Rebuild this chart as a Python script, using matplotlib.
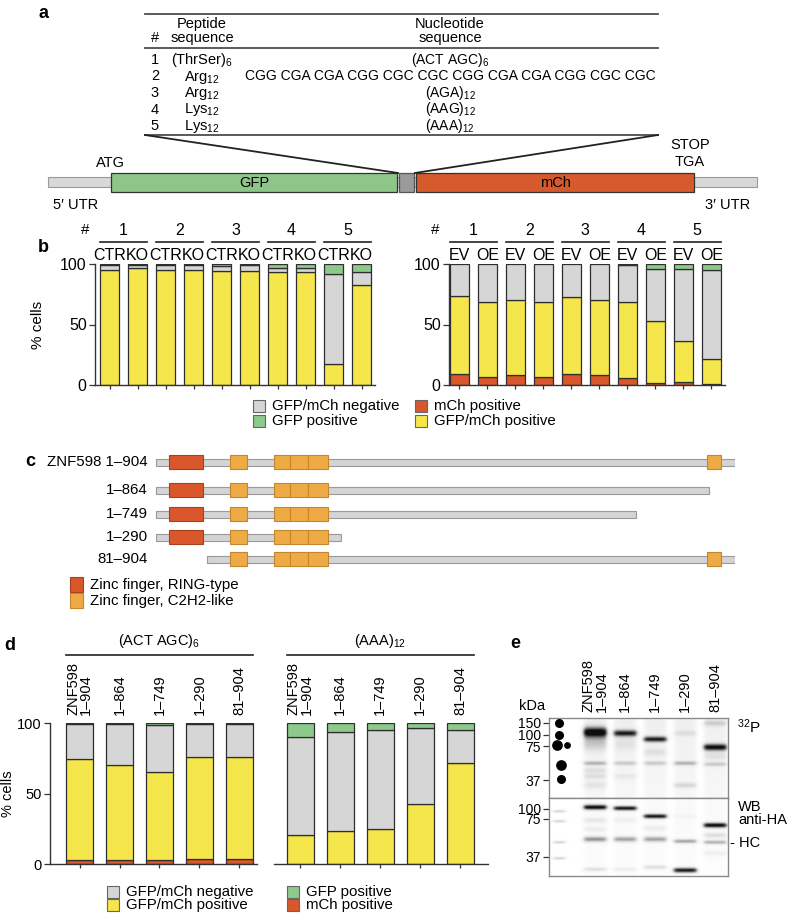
import numpy as np
import matplotlib
matplotlib.use('Agg')
import matplotlib.pyplot as plt
from matplotlib.patches import Rectangle
from matplotlib.transforms import blended_transform_factory

plt.rcParams['font.family'] = ['Liberation Sans', 'DejaVu Sans']
plt.rcParams['mathtext.default'] = 'regular'

# ---------------- data ----------------
# panel a table
row_ids = ['1', '2', '3', '4', '5']
peptides = ['(ThrSer)$_6$', 'Arg$_{12}$', 'Arg$_{12}$', 'Lys$_{12}$', 'Lys$_{12}$']
nucleotides = ['(ACT AGC)$_6$',
               'CGG CGA CGA CGG CGC CGC CGG CGA CGA CGG CGC CGC',
               '(AGA)$_{12}$', '(AAG)$_{12}$', '(AAA)$_{12}$']

# panel b (% cells), left = CTR/KO, right = EV/OE
b_groups = ['1', '2', '3', '4', '5']
b_left_cond = ['CTR', 'KO'] * 5
b_right_cond = ['EV', 'OE'] * 5
bl_mch = [0, 0, 0, 0, 0, 0, 0, 0, 0, 0]
bl_both = [95.0, 96.4, 95.2, 95.0, 94.2, 94.6, 93.7, 93.1, 17.4, 82.6]
bl_neg = [4.5, 3.1, 4.3, 4.5, 4.4, 4.4, 3.3, 3.9, 74.3, 10.8]
bl_gfp = [0.5, 0.5, 0.5, 0.5, 1.4, 1.0, 3.0, 3.0, 8.3, 6.6]
br_mch = [9.1, 6.6, 8.3, 6.6, 8.8, 8.3, 5.5, 1.9, 2.8, 1.1]
br_both = [64.1, 62.4, 62.1, 61.6, 63.8, 61.6, 62.7, 51.1, 33.9, 20.7]
br_neg = [26.8, 31.0, 29.6, 31.8, 27.4, 30.1, 31.2, 43.0, 59.2, 73.5]
br_gfp = [0, 0, 0, 0, 0, 0, 0.6, 4.0, 4.1, 4.7]

# panel c constructs (amino acids)
constructs = ['ZNF598 1\u2013904', '1\u2013864', '1\u2013749', '1\u2013290', '81\u2013904']
c_start = [1, 1, 1, 1, 81]
c_end = [904, 864, 749, 290, 904]
ring_domains = [(22, 75)]
c2h2_domains = [(117, 143), (186, 211), (211, 239), (239, 269), (860, 882)]

# panel d (% cells)
d_labels = ['ZNF598\n1\u2013904', '1\u2013864', '1\u2013749', '1\u2013290', '81\u2013904']
dl_mch = [2.8, 2.8, 2.8, 3.3, 3.3]
dl_both = [72.1, 67.8, 62.6, 72.8, 72.8]
dl_neg = [24.4, 28.6, 33.7, 23.6, 23.4]
dl_gfp = [0.7, 0.8, 0.9, 0.3, 0.5]
dr_mch = [0, 0, 0, 0, 0]
dr_both = [20.6, 23.7, 24.6, 42.7, 71.6]
dr_neg = [69.9, 70.4, 70.7, 53.7, 23.7]
dr_gfp = [9.5, 5.9, 4.7, 3.6, 4.7]

# panel e blots: (lane, migration, intensity, sigma); lane 0 = marker
upper_markers = ['150', '100', '75', '37']
upper_marker_mig = [5, 17, 28, 62]
lower_markers = ['100', '75', '37']
lower_marker_mig = [11, 21, 59]
upper_bands = [(1, 14, 1.0, 3.6), (1, 24, 0.25, 6), (1, 45, 0.35, 1.5), (1, 52, 0.15, 2),
               (1, 58, 0.15, 2), (1, 67, 0.12, 3),
               (2, 15, 0.85, 2.3), (2, 26, 0.1, 5), (2, 45, 0.25, 1.5), (2, 58, 0.1, 2),
               (3, 21, 0.85, 2.0), (3, 34, 0.12, 3), (3, 45, 0.25, 1.5),
               (4, 15, 0.12, 2), (4, 45, 0.35, 1.5), (4, 67, 0.2, 2),
               (5, 5, 0.2, 2), (5, 29, 0.95, 2.4), (5, 38, 0.12, 3), (5, 46, 0.25, 1.5)]
lower_bands = [(0, 13, 0.3, 1), (0, 23, 0.3, 1), (0, 44, 0.3, 1), (0, 60, 0.3, 1),
               (1, 9, 1.0, 1.8), (1, 22, 0.15, 2), (1, 31, 0.12, 2), (1, 41, 0.5, 2), (1, 71, 0.2, 1.5),
               (2, 10, 0.95, 1.6), (2, 22, 0.1, 2), (2, 41, 0.45, 2), (2, 71, 0.12, 1.5),
               (3, 18, 0.95, 1.6), (3, 30, 0.12, 2), (3, 41, 0.45, 2), (3, 69, 0.2, 1.5),
               (4, 18, 0.06, 1.5), (4, 43, 0.45, 1.5), (4, 72, 0.95, 1.8),
               (5, 27, 1.0, 1.8), (5, 37, 0.2, 2), (5, 44, 0.4, 1.5), (5, 55, 0.1, 2)]
# radioactive marker dots: (x, migration, size)
dots = [(10, 5, 30), (10, 17, 30), (8, 27, 45), (18, 27, 15), (12, 47, 45), (12, 61, 30)]

series = ['GFP/mCh negative', 'GFP positive', 'mCh positive', 'GFP/mCh positive']

# ---------------- style ----------------
GREY = '#d6d6d6'
GREEN = '#8dc98a'
YELLOW = '#f4e64b'
ORANGE = '#d9572b'
C2H2 = '#eeab45'
EDGE = '#2e2e2e'
colors = {'GFP/mCh negative': GREY, 'GFP positive': GREEN,
          'mCh positive': ORANGE, 'GFP/mCh positive': YELLOW}

W, H = 788, 915
fig = plt.figure(figsize=(W / 100, H / 100), dpi=100)


def add_ax(x0, y0, x1, y1):
    return fig.add_axes([x0 / W, 1 - y1 / H, (x1 - x0) / W, (y1 - y0) / H])


ov = fig.add_axes([0, 0, 1, 1])
ov.set_xlim(0, W)
ov.set_ylim(H, 0)
ov.axis('off')

# ---------------- panel a ----------------
ov.text(44, 14, 'a', fontsize=13, fontweight='bold', ha='center', va='center')
for y in (14, 48, 135):
    ov.plot([145, 658], [y, y], color='#4d4d4d', lw=1.3)
ov.text(155, 38, '#', fontsize=10.5, ha='center', va='center')
ov.text(202, 24, 'Peptide', fontsize=10.5, ha='center', va='center')
ov.text(202, 38, 'sequence', fontsize=10.5, ha='center', va='center')
ov.text(450, 24, 'Nucleotide', fontsize=10.5, ha='center', va='center')
ov.text(450, 38, 'sequence', fontsize=10.5, ha='center', va='center')
for i, (rid, pep, nuc) in enumerate(zip(row_ids, peptides, nucleotides)):
    yb = 64 + i * 16.5
    ov.text(155, yb, rid, fontsize=10.5, ha='center', va='baseline')
    ov.text(202, yb, pep, fontsize=10.5, ha='center', va='baseline')
    ov.text(450, yb, nuc, fontsize=10, ha='center', va='baseline')
ov.plot([145, 398], [135, 173], color='#222222', lw=1.3)
ov.plot([658, 415], [135, 173], color='#222222', lw=1.3)
ov.add_patch(Rectangle((48, 177), 709, 10, fc='#d8d8d8', ec='#9a9a9a', lw=0.8))
ov.add_patch(Rectangle((111, 173), 286, 19, fc='#8ec68a', ec='#333333', lw=0.9))
ov.add_patch(Rectangle((399, 173), 15, 19, fc='#9a9a9a', ec='#555555', lw=0.9))
ov.add_patch(Rectangle((416, 173), 278, 19, fc='#d65a2c', ec='#333333', lw=0.9))
ov.text(254, 183, 'GFP', fontsize=10.5, ha='center', va='center')
ov.text(555, 183, 'mCh', fontsize=10.5, ha='center', va='center')
ov.text(110, 163, 'ATG', fontsize=10.5, ha='center', va='center')
ov.text(690, 145, 'STOP', fontsize=10.5, ha='center', va='center')
ov.text(690, 162, 'TGA', fontsize=10.5, ha='center', va='center')
ov.text(76, 205, '5\u2032 UTR', fontsize=10.5, ha='center', va='center')
ov.text(728, 205, '3\u2032 UTR', fontsize=10.5, ha='center', va='center')


# ---------------- helpers ----------------
def stacked(ax, layers, width):
    n = len(layers[0][0])
    x = np.arange(n)
    bottom = np.zeros(n)
    for vals, col in layers:
        vals = np.asarray(vals, float)
        m = vals > 0
        ax.bar(x[m], vals[m], width, bottom=bottom[m], color=col,
               edgecolor=EDGE, linewidth=0.9)
        bottom += vals


def style_axes(ax, n, fs):
    ax.set_ylim(0, 100)
    ax.set_yticks([0, 50, 100])
    ax.set_xticks(np.arange(n))
    ax.set_xticklabels([])
    for s in ('top', 'right'):
        ax.spines[s].set_visible(False)
    ax.spines['left'].set_bounds(0, 100)
    for s in ('left', 'bottom'):
        ax.spines[s].set_color('#333333')
        ax.spines[s].set_linewidth(1.0)
    ax.tick_params(axis='y', length=4, width=0.9, color='#333333', labelsize=fs, pad=2)
    ax.tick_params(axis='x', length=3, width=0.9, color='#333333')
    ax.patch.set_visible(False)


def b_header(ax, conds, width):
    tr = blended_transform_factory(ax.transData, ax.transAxes)
    ax.text(-0.87, 1.28, '#', transform=tr, ha='center', va='center', fontsize=11)
    for k, g in enumerate(b_groups):
        x0, x1 = 2 * k - width / 2, 2 * k + 1 + width / 2
        ax.plot([x0, x1], [1.182, 1.182], transform=tr, clip_on=False, color='#222222', lw=1.2)
        ax.text((x0 + x1) / 2, 1.28, g, transform=tr, ha='center', va='center', fontsize=11.5)
    for i, c in enumerate(conds):
        ax.text(i, 1.074, c, transform=tr, ha='center', va='center', fontsize=11.5)


def legend_box(x, y, name, fs):
    ov.add_patch(Rectangle((x, y - 6), 12, 12, fc=colors[name], ec='#666666', lw=0.8))
    ov.text(x + 19, y, name, fontsize=fs, ha='left', va='center')


# ---------------- panel b ----------------
ov.text(43, 248, 'b', fontsize=13, fontweight='bold', ha='center', va='center')
bw = 0.68
axbl = add_ax(95, 264, 375, 385)
stacked(axbl, [(bl_mch, ORANGE), (bl_both, YELLOW), (bl_neg, GREY), (bl_gfp, GREEN)], bw)
style_axes(axbl, 10, 11.5)
axbl.set_xlim(-0.52, 9.48)
axbl.set_ylabel('% cells', fontsize=11)
axbl.yaxis.set_label_coords(-0.18, 0.5)
b_header(axbl, b_left_cond, bw)

axbr = add_ax(449, 264, 725, 385)
stacked(axbr, [(br_mch, ORANGE), (br_both, YELLOW), (br_neg, GREY), (br_gfp, GREEN)], bw)
style_axes(axbr, 10, 11.5)
axbr.set_xlim(-0.37, 9.49)
b_header(axbr, b_right_cond, bw)

legend_box(253, 406, series[0], 10.8)
legend_box(253, 421, series[1], 10.8)
legend_box(415, 406, series[2], 10.8)
legend_box(415, 421, series[3], 10.8)

# ---------------- panel c ----------------
ov.text(30, 462, 'c', fontsize=13, fontweight='bold', ha='center', va='center')
axc = add_ax(155, 448, 735, 572)
axc.set_xlim(0, 904)
axc.set_ylim(572, 448)
axc.axis('off')
row_y = [462, 490, 514, 537, 559]
for name, s, e, y in zip(constructs, c_start, c_end, row_y):
    axc.add_patch(Rectangle((s, y - 3.5), e - s, 7, fc='#d4d4d4', ec='#9a9a9a', lw=0.8))
    for ds, de in ring_domains:
        if ds >= s and de <= e:
            axc.add_patch(Rectangle((ds, y - 7), de - ds, 14, fc=ORANGE, ec='#a8401c', lw=0.8))
    for ds, de in c2h2_domains:
        if ds >= s and de <= e:
            axc.add_patch(Rectangle((ds, y - 7), de - ds, 14, fc=C2H2, ec='#c4852c', lw=0.8))
    axc.annotate(name, (0, y), xytext=(-5, 0), textcoords='offset points',
                 ha='right', va='center', fontsize=10.8, annotation_clip=False)
ov.add_patch(Rectangle((70, 577), 13, 15, fc=ORANGE, ec='#a8401c', lw=0.8))
ov.text(90, 585, 'Zinc finger, RING-type', fontsize=10.8, ha='left', va='center')
ov.add_patch(Rectangle((70, 593), 13, 15, fc=C2H2, ec='#c4852c', lw=0.8))
ov.text(90, 601, 'Zinc finger, C2H2-like', fontsize=10.8, ha='left', va='center')

# ---------------- panel d ----------------
ov.text(10, 645, 'd', fontsize=13, fontweight='bold', ha='center', va='center')
dw = 0.675


def d_header(ax, title):
    tr = blended_transform_factory(ax.transData, ax.transAxes)
    for i, lab in enumerate(d_labels):
        ax.text(i, 1.059, lab, transform=tr, rotation=90, ha='center', va='bottom',
                multialignment='left', fontsize=10.5, linespacing=0.9)
    ax.plot([-dw / 2, 4 + dw / 2], [1.485, 1.485], transform=tr, clip_on=False,
            color='#222222', lw=1.2)
    ax.text(2, 1.585, title, transform=tr, ha='center', va='center', fontsize=10.5)


axdl = add_ax(50, 723.3, 257, 864)
stacked(axdl, [(dl_mch, ORANGE), (dl_both, YELLOW), (dl_neg, GREY), (dl_gfp, GREEN)], dw)
style_axes(axdl, 5, 10.5)
axdl.set_xlim(-0.74, 4.44)
axdl.set_ylabel('% cells', fontsize=10.5)
axdl.yaxis.set_label_coords(-0.17, 0.5)
d_header(axdl, '(ACT AGC)$_6$')

axdr = add_ax(274, 723.3, 488, 864)
stacked(axdr, [(dr_mch, ORANGE), (dr_both, YELLOW), (dr_neg, GREY), (dr_gfp, GREEN)], dw)
style_axes(axdr, 5, 10.5)
axdr.set_xlim(-0.65, 4.7)
axdr.spines['left'].set_visible(False)
axdr.tick_params(axis='y', left=False, labelleft=False)
d_header(axdr, '(AAA)$_{12}$')

legend_box(107, 892, series[0], 10.8)
legend_box(107, 905, series[3], 10.8)
legend_box(287, 892, series[1], 10.8)
legend_box(287, 905, series[2], 10.8)

# ---------------- panel e ----------------
ov.text(515, 643, 'e', fontsize=13, fontweight='bold', ha='center', va='center')
ov.text(532, 706, 'kDa', fontsize=10.5, ha='center', va='center')
ov.text(737, 727, '$^{32}$P', fontsize=11, ha='left', va='center')
ov.text(738, 807, 'WB', fontsize=10.5, ha='left', va='center')
ov.text(738, 820, 'anti-HA', fontsize=10.5, ha='left', va='center')
ov.text(730, 843, '- HC', fontsize=10.5, ha='left', va='center')

blot_w = 179


def lane_x(lane):
    return 10 if lane == 0 else 46 + 30 * (lane - 1)


def draw_blot(ax, bands, height, smear):
    yy, xx = np.mgrid[0:height:0.5, 0:blot_w:0.5]
    img = np.zeros_like(yy)
    for lane in range(1, 6):
        prof = 1 / (1 + np.exp((np.abs(xx - lane_x(lane)) - 11) / 1.2))
        img += smear * prof * np.exp(-yy / (height * 1.5))
    for lane, mig, inten, sy in bands:
        half = 6 if lane == 0 else 11.5
        prof = 1 / (1 + np.exp((np.abs(xx - lane_x(lane)) - half) / 1.2))
        img += inten * np.exp(-0.5 * ((yy - mig) / sy) ** 2) * prof
    img = np.clip(img, 0, 1)
    ax.imshow(img, cmap='Greys', vmin=0, vmax=1.05, extent=(0, blot_w, height, 0),
              interpolation='bilinear', aspect='auto')
    ax.set_xlim(0, blot_w)
    ax.set_ylim(height, 0)
    ax.set_xticks([])
    for s in ax.spines.values():
        s.set_color('#8a8a8a')
        s.set_linewidth(1.0)
    ax.tick_params(axis='y', length=4, width=0.9, color='#333333', labelsize=10, pad=2)


axeu = add_ax(549, 718, 728, 798)
draw_blot(axeu, upper_bands, 80, 0.14)
axeu.set_yticks(upper_marker_mig)
axeu.set_yticklabels(upper_markers)
for x, m, s in dots:
    axeu.scatter(x, m, s=s, color='black', zorder=3)
tr = blended_transform_factory(axeu.transData, axeu.transAxes)
for i, lab in enumerate(d_labels):
    axeu.text(lane_x(i + 1), 1.075, lab, transform=tr, rotation=90, ha='center', va='bottom',
              multialignment='left', fontsize=10.5, linespacing=0.9)

axel = add_ax(549, 798, 728, 876)
draw_blot(axel, lower_bands, 78, 0.05)
axel.set_yticks(lower_marker_mig)
axel.set_yticklabels(lower_markers)

fig.savefig('out.png', dpi=100)
